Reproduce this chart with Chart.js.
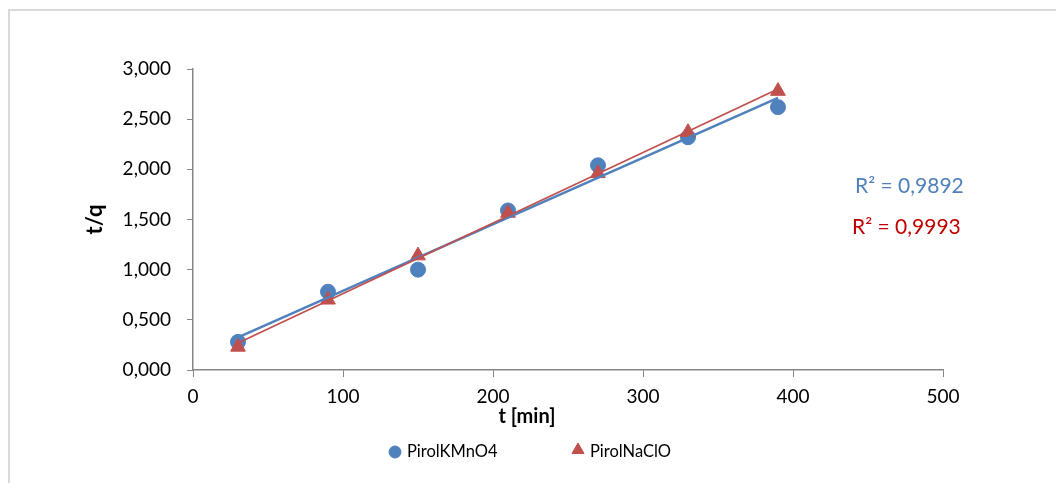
<!DOCTYPE html>
<html>
<head>
<meta charset="utf-8">
<script src="https://cdn.jsdelivr.net/npm/chart.js@4.4.1/dist/chart.umd.min.js"></script>
<style>
    html, body { margin: 0; padding: 0; background: #fff; overflow: hidden; }
    #frame { position: absolute; left: 8px; top: 9px; width: 1200px; height: 600px; border: 2px solid #d9d9d9; }
    #wrap { position: absolute; left: 0; top: 0; width: 1056px; height: 483px; }
</style>
</head>
<body>
<div id="frame"></div>
<div id="wrap"><canvas id="chart" width="1056" height="483"></canvas></div>
<script>
// t/q vs t chart

var blue = '#4f81bd',
    red = '#c0504d',
    redText = '#c00000',
    axisGray = '#868686';

var times = [30, 90, 150, 210, 270, 330, 390];
var kmno4 = [0.28, 0.78, 1.00, 1.59, 2.04, 2.32, 2.62];
var naclo = [0.23, 0.70, 1.14, 1.565, 1.96, 2.37, 2.78];
var seriesNames = ['PirolKMnO4', 'PirolNaClO'];
var r2Labels = ['R\u00b2 = 0,9892', 'R\u00b2 = 0,9993'];

function toPoints(ys) {
    return times.map(function (t, i) { return { x: t, y: ys[i] }; });
}

// least squares line through the points, drawn from first to last time
function fitLine(ys) {
    var n = times.length, sx = 0, sy = 0, sxx = 0, sxy = 0;
    for (var i = 0; i < n; i++) {
        sx += times[i]; sy += ys[i];
        sxx += times[i] * times[i]; sxy += times[i] * ys[i];
    }
    var b = (n * sxy - sx * sy) / (n * sxx - sx * sx);
    var a = (sy - b * sx) / n;
    var x0 = times[0], x1 = times[n - 1];
    return [{ x: x0, y: a + b * x0 }, { x: x1, y: a + b * x1 }];
}

// R² labels, x title and the legend row
var extraText = {
    id: 'extraText',
    afterDraw: function (chart) {
        var ctx = chart.ctx;
        ctx.save();
        ctx.textBaseline = 'middle';
        ctx.textAlign = 'left';
        ctx.font = '21px Lato';
        ctx.fillStyle = blue;
        ctx.fillText(r2Labels[0], 855, 186);
        ctx.fillStyle = redText;
        ctx.fillText(r2Labels[1], 852, 227);

        ctx.textAlign = 'center';
        ctx.fillStyle = '#000';
        ctx.font = 'bold 20px Lato';
        ctx.fillText('t [min]', 527, 417);

        var legendX = [395, 578];
        ctx.textAlign = 'left';
        ctx.font = '16.5px Lato';
        chart.data.datasets.slice(0, 2).forEach(function (ds, i) {
            ctx.fillStyle = ds.backgroundColor;
            ctx.strokeStyle = ds.borderColor;
            Chart.helpers.drawPoint(ctx, {
                pointStyle: ds.pointStyle,
                radius: i === 0 ? 6 : 7,
                borderWidth: 1,
                rotation: 0
            }, legendX[i], i === 0 ? 452 : 450);
            ctx.fillStyle = '#000';
            ctx.fillText(ds.label, legendX[i] + 12, 452);
        });
        ctx.restore();
    }
};

var ctx = document.getElementById('chart').getContext('2d');
var chart = new Chart(ctx, {
    type: 'scatter',
    data: {
        datasets: [{
            label: seriesNames[0],
            data: toPoints(kmno4),
            backgroundColor: blue,
            borderColor: blue,
            pointStyle: 'circle',
            pointRadius: 7.5,
            pointHoverRadius: 7.5,
            order: 3
        }, {
            label: seriesNames[1],
            data: toPoints(naclo),
            backgroundColor: red,
            borderColor: red,
            pointStyle: 'triangle',
            pointRadius: 8.5,
            pointHoverRadius: 8.5,
            order: 2
        }, {
            label: 'fit1',
            data: fitLine(kmno4),
            showLine: true,
            borderColor: blue,
            borderWidth: 2.5,
            pointRadius: 0,
            order: 1
        }, {
            label: 'fit2',
            data: fitLine(naclo),
            showLine: true,
            borderColor: red,
            borderWidth: 1.75,
            pointRadius: 0,
            order: 0
        }]
    },
    options: {
        responsive: false,
        animation: false,
        layout: {
            padding: { left: 16, right: 0, top: 69, bottom: 51 }
        },
        scales: {
            x: {
                type: 'linear',
                min: 0,
                max: 500,
                ticks: {
                    stepSize: 100,
                    color: '#000',
                    padding: 8,
                    font: { family: 'Lato', size: 19 }
                },
                grid: {
                    drawOnChartArea: false,
                    color: axisGray,
                    tickLength: 7,
                    tickColor: axisGray
                },
                border: { color: axisGray, width: 1.5 },
                afterFit: function (s) { s.height = 62; }
            },
            y: {
                min: 0,
                max: 3,
                ticks: {
                    stepSize: 0.5,
                    color: '#000',
                    padding: 16,
                    font: { family: 'Lato', size: 19 },
                    callback: function (v) { return v.toFixed(3).replace('.', ','); }
                },
                grid: {
                    drawOnChartArea: false,
                    color: axisGray,
                    tickLength: 6,
                    tickColor: axisGray
                },
                border: { color: axisGray, width: 1.5 },
                title: {
                    display: true,
                    text: 't/q',
                    color: '#000',
                    font: { family: 'Lato', size: 22, weight: 'bold' },
                    padding: { top: 66, bottom: 0 }
                },
                afterFit: function (s) { s.width = 177; }
            },
            yRight: {
                position: 'right',
                min: 0,
                max: 3,
                grid: { display: false },
                border: { display: false },
                ticks: { display: false },
                afterFit: function (s) { s.width = 113; }
            }
        },
        plugins: {
            legend: { display: false },
            tooltip: { enabled: false }
        }
    },
    plugins: [extraText]
});
</script>
</body>
</html>
